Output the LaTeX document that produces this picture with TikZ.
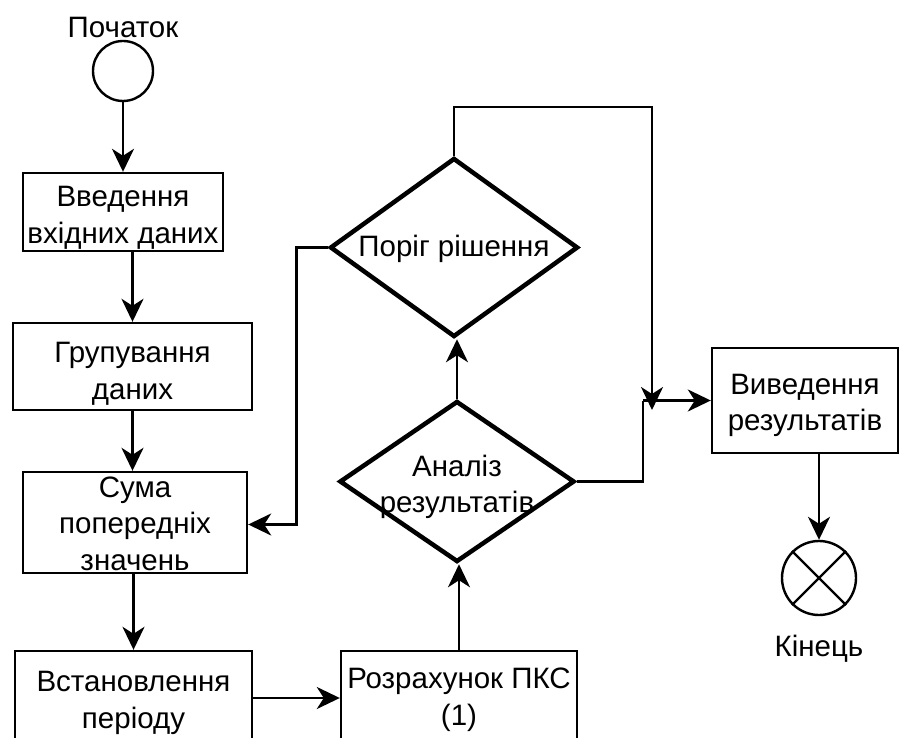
\documentclass[tikz,border=0pt]{standalone}
\usepackage{fontspec}
\setmainfont{Liberation Sans}
\usetikzlibrary{shapes.geometric,arrows.meta}

\begin{document}
\begin{tikzpicture}[x=1pt,y=-1pt,
  every node/.style={font=\fontsize{29.5}{36.5}\selectfont, align=center, inner sep=0pt},
  box/.style={draw, rectangle, line width=2.4pt},
  dia/.style={draw, diamond, line width=4.5pt, line join=miter},
  term/.style={draw, circle, line width=2.4pt},
  txt/.style={},
  conn/.style={line width=2.6pt},
  arr/.style={conn, -{Stealth[length=23pt,width=22pt,inset=7pt]}}
]
\clip (0,0) rectangle (900,738);
\fill[white] (0,0) rectangle (900,738);

% start / end terminals
\node[term, minimum size=60pt] (start) at (123,71) {};
\node[txt] (startL) at (123,27) {Початок};
\node[term, minimum size=74pt] (end) at (819,578) {};
\draw[line width=2.4pt] (end.north west) -- (end.south east)
                        (end.north east) -- (end.south west);
\node[txt] (endL) at (819,649) {Кінець};

% process boxes (outlines)
\node[box, minimum width=200pt, minimum height=78pt] (b1) at (123,212) {};
\node[box, minimum width=239pt, minimum height=87pt] (b2) at (132.5,366.5) {};
\node[box, minimum width=224pt, minimum height=101pt] (b3) at (135,522.5) {};
\node[box, minimum width=237pt, minimum height=94pt] (b4) at (133.5,698) {};
\node[box, minimum width=236pt, minimum height=94pt] (b5) at (459,698) {};
\node[box, minimum width=186pt, minimum height=105pt] (b6) at (805,400.5) {};

% box captions
\node[txt] (b1T) at (123,218) {Введення\\вхідних даних};
\node[txt] (b2T) at (132.5,374) {Групування\\даних};
\node[txt] (b3T) at (135,523.5) {Сума\\попередніх\\значень};
\node[txt] (b4T) at (133.5,703) {Встановлення\\періоду};
\node[txt] (b5T) at (459,700) {Розрахунок ПКС\\(1)};
\node[txt] (b6T) at (805,405.5) {Виведення\\результатів};

% decision diamonds
\node[dia, minimum width=235pt, minimum height=161pt] (an) at (457,481.5) {};
\node[txt] (anT) at (457,487) {Аналіз\\результатів};
\node[dia, minimum width=248pt, minimum height=179pt] (por) at (454,247.5) {};
\node[txt] (porT) at (454,249) {Поріг рішення};

% junction points
\coordinate (jT) at (652,107);
\coordinate (jM) at (652,410);
\coordinate (jA) at (643,400.5);

% connectors
\draw[arr] (start) -- (b1);
\draw[arr] (b1.south -| b2) -- (b2.north);
\draw[arr] (b2.south) -- (b2.south |- b3.north);
\draw[arr] (b3.south -| b4) -- (b4.north);
\draw[arr] (b4.east) -- (b5.west);
\draw[arr] (b5.north) -- (b5.north |- an.south);
\draw[arr] (an.north) -- (an.north |- por.south);
\draw[arr] (por.west) -| ([xshift=48pt,yshift=-2pt]b3.east) -- ([yshift=-2pt]b3.east);
\draw[arr] (por.north) |- (jT) -- (jM);
\draw[conn] (an.east) -| (jA);
\draw[arr] (jA) -- (b6.west);
\draw[arr] (b6.south -| end) -- (end.north);
\end{tikzpicture}
\end{document}
